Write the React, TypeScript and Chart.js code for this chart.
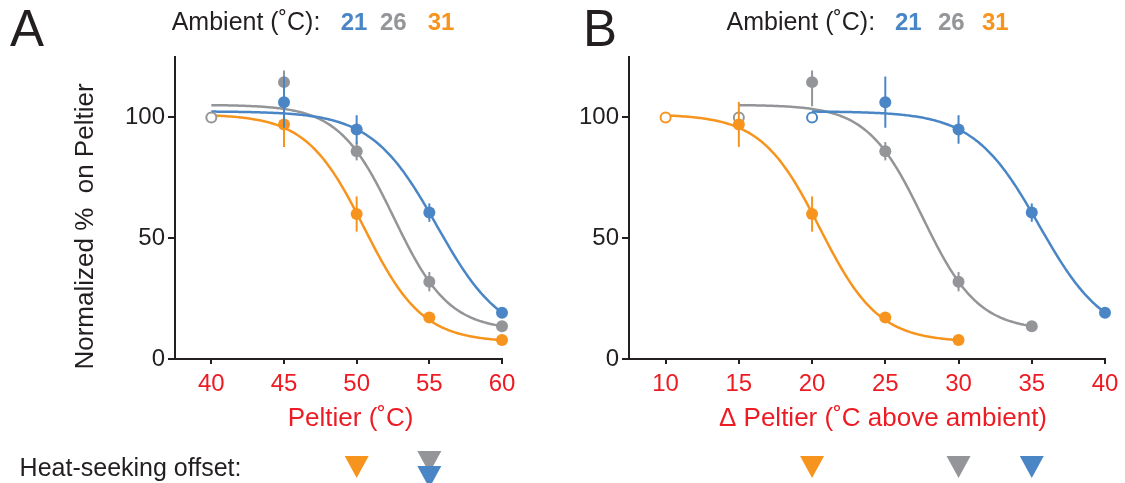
import { useEffect, useRef } from 'react';
import { Chart, registerables } from 'chart.js';

Chart.register(...registerables);

const FONT = '"Liberation Sans", Arial, Helvetica, sans-serif';
const INK = '#231f20';
const RED = '#ed1c24';
const BLUE = '#4a86c6';
const GRAY = '#939598';
const ORANGE = '#f7941d';

// Legend: ambient temperature of each series (blue, gray, orange)
const ambientLabels = ['21', '26', '31'];
const seriesColors = [BLUE, GRAY, ORANGE];

// Axis ticks
const yTicks = [0, 50, 100];
const xTicksA = [40, 45, 50, 55, 60];
const xTicksB = [10, 15, 20, 25, 30, 35, 40];

// Panel A: absolute Peltier temperature (°C)
const peltierBlue = [45, 50, 55, 60];
const peltierGray = [45, 50, 55, 60];
const peltierOrange = [45, 50, 55, 60];
const refPeltierGray = [40];

// Panel B: Peltier temperature above ambient (°C)
const deltaBlue = [25, 30, 35, 40];
const deltaGray = [20, 25, 30, 35];
const deltaOrange = [15, 20, 25, 30];
const refDeltaBlue = [20];
const refDeltaGray = [15];
const refDeltaOrange = [10];

// Normalized % time on the Peltier (mean)
const pctBlue = [106.3, 95, 60.6, 19.1];
const pctGray = [114.6, 86, 32, 13.6];
const pctOrange = [97.1, 60, 17.2, 7.9];
const refPct = [100];

// Error bars (upper / lower extent)
const errHiBlue = [10.6, 5.9, 3.8, 1.0];
const errLoBlue = [10.6, 5.9, 3.8, 1.0];
const errHiGray = [4.8, 3.8, 4.0, 1.0];
const errLoGray = [10.0, 3.8, 4.0, 1.0];
const errHiOrange = [9.3, 7.3, 1.5, 0.8];
const errLoOrange = [9.3, 7.3, 1.5, 0.8];

// Sigmoid fits: [top, bottom, midpoint, slope]
const fitBlueA = [102.5, 8, 55.51, 2.24];
const fitGrayA = [105.2, 11.8, 52.56, 1.894];
const fitOrangeA = [101.3, 7, 50.53, 2.0];
const fitBlueB = [102.5, 8, 35.51, 2.24];
const fitGrayB = [105.2, 11.8, 27.56, 1.894];
const fitOrangeB = [101.3, 7, 20.53, 2.0];
const fitRangeA = [40, 60];
const fitRangeBlueB = [20, 40];
const fitRangeGrayB = [15, 35];
const fitRangeOrangeB = [10, 30];

// Heat-seeking offsets (blue, gray, orange)
const heatOffsetA = [55, 55, 50];
const heatOffsetB = [35, 30, 20];

type Series = {
  color: string;
  x: number[];
  y: number[];
  hi: number[];
  lo: number[];
  refX: number[];
  fit: number[];
  fitRange: number[];
};

type Decor = {
  letter: string;
  letterX: number;
  legendX: number[];
  yTitle: boolean;
  xTitle: string;
  xTitleCx: number;
  heatLabel: boolean;
  triTops: number[];
  heat: number[];
};

type Panel = {
  left: number;
  width: number;
  xMin: number;
  xMax: number;
  xTicks: number[];
  padLeft: number;
  padRight: number;
  series: Series[];
  decor: Decor;
};

function fitCurve(p: number[], range: number[]) {
  const [top, bottom, mid, slope] = p;
  const n = Math.round((range[1] - range[0]) / 0.1);
  const pts: { x: number; y: number }[] = [];
  for (let i = 0; i <= n; i++) {
    const x = range[0] + ((range[1] - range[0]) * i) / n;
    pts.push({ x, y: bottom + (top - bottom) / (1 + Math.exp((x - mid) / slope)) });
  }
  return pts;
}

const panelA: Panel = {
  left: 0,
  width: 562,
  xMin: 37.5,
  xMax: 60,
  xTicks: xTicksA,
  padLeft: 115,
  padRight: 60,
  series: [
    { color: BLUE, x: peltierBlue, y: pctBlue, hi: errHiBlue, lo: errLoBlue, refX: [], fit: fitBlueA, fitRange: fitRangeA },
    { color: GRAY, x: peltierGray, y: pctGray, hi: errHiGray, lo: errLoGray, refX: refPeltierGray, fit: fitGrayA, fitRange: fitRangeA },
    { color: ORANGE, x: peltierOrange, y: pctOrange, hi: errHiOrange, lo: errLoOrange, refX: [], fit: fitOrangeA, fitRange: fitRangeA },
  ],
  decor: {
    letter: 'A',
    letterX: 10,
    legendX: [171.7, 340.7, 380, 427.7],
    yTitle: true,
    xTitle: 'Peltier (˚C)',
    xTitleCx: 350.6,
    heatLabel: true,
    triTops: [466, 451, 456],
    heat: heatOffsetA,
  },
};

const panelB: Panel = {
  left: 562,
  width: 563,
  xMin: 7.5,
  xMax: 40,
  xTicks: xTicksB,
  padLeft: 7,
  padRight: 20,
  series: [
    { color: BLUE, x: deltaBlue, y: pctBlue, hi: errHiBlue, lo: errLoBlue, refX: refDeltaBlue, fit: fitBlueB, fitRange: fitRangeBlueB },
    { color: GRAY, x: deltaGray, y: pctGray, hi: errHiGray, lo: errLoGray, refX: refDeltaGray, fit: fitGrayB, fitRange: fitRangeGrayB },
    { color: ORANGE, x: deltaOrange, y: pctOrange, hi: errHiOrange, lo: errLoOrange, refX: refDeltaOrange, fit: fitOrangeB, fitRange: fitRangeOrangeB },
  ],
  decor: {
    letter: 'B',
    letterX: 583,
    legendX: [726.5, 895, 938, 982],
    yTitle: false,
    xTitle: 'Δ Peltier (˚C above ambient)',
    xTitleCx: 883,
    heatLabel: false,
    triTops: [456, 456, 456],
    heat: heatOffsetB,
  },
};

const errorBarPlugin = {
  id: 'errorBars',
  beforeDatasetDraw(chart: any, args: any) {
    const ds = chart.data.datasets[args.index];
    if (!ds.errHi) return;
    const xs = chart.scales.x;
    const ys = chart.scales.y;
    const ctx = chart.ctx;
    ctx.save();
    ctx.strokeStyle = ds.borderColor;
    ctx.lineWidth = 2;
    ds.data.forEach((pt: { x: number; y: number }, j: number) => {
      const px = xs.getPixelForValue(pt.x);
      ctx.beginPath();
      ctx.moveTo(px, ys.getPixelForValue(pt.y + ds.errHi[j]));
      ctx.lineTo(px, ys.getPixelForValue(pt.y - ds.errLo[j]));
      ctx.stroke();
    });
    ctx.restore();
  },
};

function decorPlugin(panel: Panel) {
  const d = panel.decor;
  const off = panel.left;
  return {
    id: 'decor',
    afterDraw(chart: any) {
      const ctx = chart.ctx as CanvasRenderingContext2D;
      const xs = chart.scales.x;
      ctx.save();
      ctx.textBaseline = 'alphabetic';

      // panel letter
      ctx.fillStyle = INK;
      ctx.textAlign = 'left';
      ctx.font = `51px ${FONT}`;
      ctx.fillText(d.letter, d.letterX - off, 45.7);

      // ambient legend
      ctx.font = `25px ${FONT}`;
      ctx.fillText('Ambient (˚C):', d.legendX[0] - off, 30);
      ctx.font = `bold 24px ${FONT}`;
      ambientLabels.forEach((lab, i) => {
        ctx.fillStyle = seriesColors[i];
        ctx.fillText(lab, d.legendX[i + 1] - off, 30);
      });

      // y title
      if (d.yTitle) {
        ctx.save();
        ctx.translate(93 - off, 226.5);
        ctx.rotate(-Math.PI / 2);
        ctx.textAlign = 'center';
        ctx.fillStyle = INK;
        ctx.font = `26px ${FONT}`;
        ctx.fillText('Normalized %  on Peltier', 0, 0);
        ctx.restore();
      }

      // x title
      ctx.textAlign = 'center';
      ctx.fillStyle = RED;
      ctx.font = `26px ${FONT}`;
      ctx.fillText(d.xTitle, d.xTitleCx - off, 426);

      // heat-seeking offset row
      if (d.heatLabel) {
        ctx.textAlign = 'left';
        ctx.fillStyle = INK;
        ctx.font = `25px ${FONT}`;
        ctx.fillText('Heat-seeking offset:', 19.6 - off, 476);
      }
      [1, 2, 0].forEach((i) => {
        const cx = xs.getPixelForValue(d.heat[i]);
        const top = d.triTops[i];
        ctx.fillStyle = seriesColors[i];
        ctx.beginPath();
        ctx.moveTo(cx - 12, top);
        ctx.lineTo(cx + 12, top);
        ctx.lineTo(cx, top + 22);
        ctx.closePath();
        ctx.fill();
      });
      ctx.restore();
    },
  };
}

function buildConfig(panel: Panel): any {
  const datasets: any[] = [];
  // filled markers with error bars (drawn on top)
  panel.series.forEach((s) => {
    datasets.push({
      data: s.x.map((x, j) => ({ x, y: s.y[j] })),
      errHi: s.hi,
      errLo: s.lo,
      showLine: false,
      pointRadius: 6,
      pointHoverRadius: 6,
      pointBorderWidth: 0,
      backgroundColor: s.color,
      borderColor: s.color,
      clip: false,
    });
  });
  // open markers at the normalising temperature
  panel.series.forEach((s) => {
    if (!s.refX.length) return;
    datasets.push({
      data: s.refX.map((x, j) => ({ x, y: refPct[j] })),
      showLine: false,
      pointRadius: 5,
      pointHoverRadius: 5,
      pointBorderWidth: 2,
      backgroundColor: '#ffffff',
      borderColor: s.color,
      clip: false,
    });
  });
  // fitted curves
  panel.series.forEach((s) => {
    datasets.push({
      data: fitCurve(s.fit, s.fitRange),
      showLine: true,
      pointRadius: 0,
      pointHoverRadius: 0,
      borderWidth: 2.5,
      borderColor: s.color,
      backgroundColor: s.color,
      fill: false,
      tension: 0,
      clip: false,
    });
  });

  const axisGrid = (len: number) => ({
    display: true,
    drawOnChartArea: false,
    drawTicks: true,
    tickLength: len,
    color: INK,
    tickColor: INK,
    lineWidth: 2,
    tickWidth: 2,
  });

  return {
    type: 'scatter',
    data: { datasets },
    options: {
      responsive: false,
      animation: false,
      events: [],
      layout: { padding: { left: panel.padLeft, right: panel.padRight, top: 57, bottom: 74 } },
      plugins: { legend: { display: false }, tooltip: { enabled: false }, title: { display: false } },
      scales: {
        x: {
          type: 'linear',
          min: panel.xMin,
          max: panel.xMax,
          afterBuildTicks: (s: any) => {
            s.ticks = panel.xTicks.map((v) => ({ value: v }));
          },
          afterFit: (s: any) => {
            s.height = 50;
          },
          grid: axisGrid(5),
          border: { display: true, color: INK, width: 2 },
          ticks: { color: RED, font: { family: FONT, size: 24 }, padding: 6, maxRotation: 0, autoSkip: false },
        },
        y: {
          type: 'linear',
          min: 0,
          max: 125,
          afterBuildTicks: (s: any) => {
            s.ticks = yTicks.map((v) => ({ value: v }));
          },
          afterFit: (s: any) => {
            s.width = 60;
          },
          grid: axisGrid(7),
          border: { display: true, color: INK, width: 2 },
          ticks: { color: INK, font: { family: FONT, size: 24 }, padding: 3 },
        },
      },
    },
    plugins: [errorBarPlugin, decorPlugin(panel)],
  };
}

function PanelChart({ panel }: { panel: Panel }) {
  const ref = useRef<HTMLCanvasElement | null>(null);
  useEffect(() => {
    if (!ref.current) return;
    const chart = new Chart(ref.current, buildConfig(panel));
    return () => chart.destroy();
  }, [panel]);
  return (
    <canvas
      ref={ref}
      width={panel.width}
      height={483}
      style={{ position: 'absolute', left: panel.left, top: 0, width: panel.width, height: 483 }}
    />
  );
}

export default function App() {
  return (
    <div style={{ position: 'fixed', left: 0, top: 0, width: 1125, height: 483, background: '#ffffff', overflow: 'hidden' }}>
      <PanelChart panel={panelA} />
      <PanelChart panel={panelB} />
    </div>
  );
}
